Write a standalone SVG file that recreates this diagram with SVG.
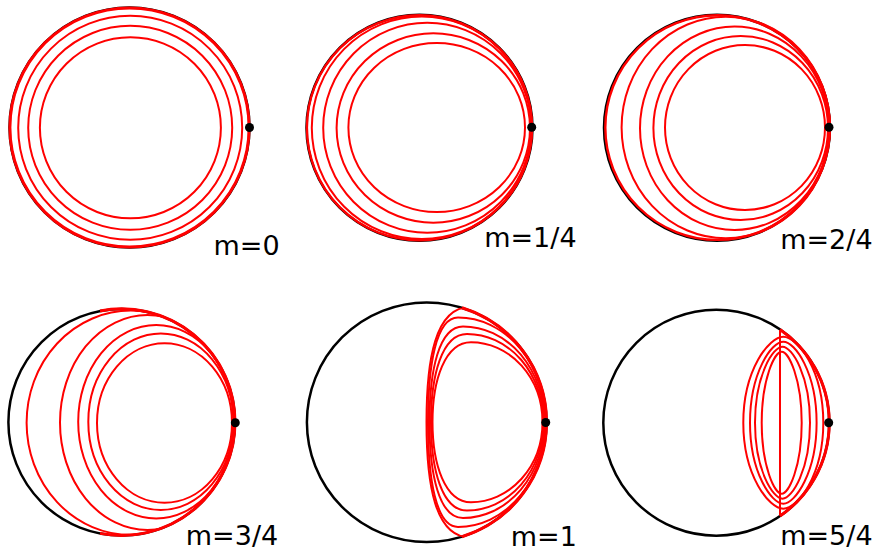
<svg xmlns="http://www.w3.org/2000/svg" width="877" height="552" viewBox="0 0 877 552">
<style>
.bk{fill:none;stroke:#000;stroke-width:2.5}
.rd{fill:none;stroke:#f00;stroke-width:2}
.hug{fill:none;stroke:#f00;stroke-width:3}
.dot{fill:#000}
.lbl{font-family:"DejaVu Sans","Liberation Sans",sans-serif;font-size:27px;fill:#000}
</style>
<defs>
<clipPath id="cp4"><circle cx="121.7" cy="422.2" r="113.3"/></clipPath>
<clipPath id="cp5"><circle cx="426.7" cy="422.2" r="119.8"/></clipPath>
<clipPath id="cp6"><circle cx="716.3" cy="422.7" r="113"/></clipPath>
</defs>
<rect width="877" height="552" fill="#fff"/>

<g id="panel-m0">
<circle class="bk" cx="129.5" cy="127.5" r="120"/>
<circle class="hug" cx="129.5" cy="127.5" r="119.6"/>
<circle class="rd" cx="130.2" cy="127.8" r="112"/>
<circle class="rd" cx="130.2" cy="127.8" r="102"/>
<circle class="rd" cx="130.4" cy="127.8" r="90.5"/>
<circle class="dot" cx="249.5" cy="127.5" r="4.5"/>
<text class="lbl" x="213.5" y="255">m=0</text>
</g>

<g id="panel-m1-4">
<circle class="bk" cx="419.5" cy="127.8" r="113"/>
<circle class="rd" cx="419.5" cy="127.8" r="112.6" style="stroke-width:2.4"/>
<ellipse class="rd" cx="421.8" cy="127.8" rx="110" ry="111.3"/>
<ellipse class="rd" cx="427.2" cy="127.7" rx="104" ry="105"/>
<ellipse class="rd" cx="433.3" cy="128" rx="96.7" ry="94.7"/>
<ellipse class="rd" cx="436.7" cy="127.5" rx="88.3" ry="84.5"/>
<circle class="dot" cx="531.7" cy="127.3" r="4.5"/>
<text class="lbl" x="484.2" y="247">m=1/4</text>
</g>

<g id="panel-m2-4">
<circle class="bk" cx="717" cy="127.8" r="113"/>
<circle class="rd" cx="717.6" cy="127.6" r="112.3" style="stroke-width:2.4"/>
<ellipse class="rd" cx="725.8" cy="127.5" rx="104.2" ry="110.8"/>
<ellipse class="rd" cx="734.5" cy="128.3" rx="94.5" ry="101.7"/>
<ellipse class="rd" cx="740.7" cy="128" rx="87.3" ry="92"/>
<ellipse class="rd" cx="745" cy="127.5" rx="80" ry="82.5"/>
<circle class="dot" cx="829" cy="127.3" r="4.5"/>
<text class="lbl" x="780.2" y="249">m=2/4</text>
</g>

<g id="panel-m3-4">
<circle class="bk" cx="121.7" cy="422.2" r="113.3"/>
<g clip-path="url(#cp4)">
<ellipse class="rd" cx="130.8" cy="422.8" rx="104.2" ry="112.2"/>
<ellipse class="rd" cx="147.5" cy="422.5" rx="87.5" ry="107.5"/>
<ellipse class="rd" cx="156.2" cy="421.7" rx="78" ry="96.7"/>
<ellipse class="rd" cx="160.8" cy="421.7" rx="72.5" ry="88.3"/>
<ellipse class="rd" cx="164.5" cy="423" rx="67.5" ry="79.7"/>
</g>
<path class="hug" d="M100,311 A113.3 113.3 0 1 1 100,533.4"/>
<circle class="dot" cx="235.3" cy="422.7" r="4.5"/>
<text class="lbl" x="185.8" y="545">m=3/4</text>
</g>

<g id="panel-m1">
<circle class="bk" cx="426.7" cy="422.2" r="119.8"/>
<g clip-path="url(#cp5)">
<path class="rd" d="M426.5,422.2 C426.5,360 435,307 470,307 A78 115.2 0 0 1 548,422.2 A78 115.2 0 0 1 470,537.4 C435,537.4 426.5,484.4 426.5,422.2 Z"/>
<path class="rd" d="M428,422.2 C428,365 436,317.5 458,317.5 A87.5 104.7 0 0 1 545.5,422.2 A87.5 104.7 0 0 1 458,526.9 C436,526.9 428,479.4 428,422.2 Z"/>
<path class="rd" d="M429.5,422.2 C429.5,370 439,326.4 463,326.4 A81.5 95.8 0 0 1 544.5,422.2 A81.5 95.8 0 0 1 463,518 C439,518 429.5,474.4 429.5,422.2 Z"/>
<path class="rd" d="M431,422.2 C431,375 442,333.9 467,333.9 A76.5 88.3 0 0 1 543.5,422.2 A76.5 88.3 0 0 1 467,510.5 C442,510.5 431,469.4 431,422.2 Z"/>
<path class="rd" d="M432.5,422.2 C432.5,380 445,342.2 471,342.2 A71.5 80 0 0 1 542.5,422.2 A71.5 80 0 0 1 471,502.2 C445,502.2 432.5,464.4 432.5,422.2 Z"/>
</g>
<path class="hug" d="M462,307.7 A119.8 119.8 0 0 1 462,536.7"/>
<circle class="dot" cx="545.7" cy="422.5" r="4.5"/>
<text class="lbl" x="510.8" y="546">m=1</text>
</g>

<g id="panel-m5-4">
<circle class="bk" cx="716.3" cy="422.7" r="113"/>
<g clip-path="url(#cp6)">
<path class="rd" d="M783.3,336.7 C769.3,336.7 743.3,369.4 743.3,422.7 C743.3,476 769.3,508.7 783.3,508.7 C797.3,508.7 823.3,476 823.3,422.7 C823.3,369.4 797.3,336.7 783.3,336.7 Z"/>
<path class="rd" d="M783.3,341.7 C771.6,341.7 750,372.5 750,422.7 C750,472.9 771.6,503.7 783.3,503.7 C795,503.7 816.6,472.9 816.6,422.7 C816.6,372.5 795,341.7 783.3,341.7 Z"/>
<path class="rd" d="M782.5,346.7 C772.9,346.7 755,375.6 755,422.7 C755,469.8 772.9,498.7 782.5,498.7 C792.1,498.7 810,469.8 810,422.7 C810,375.6 792.1,346.7 782.5,346.7 Z"/>
<path class="rd" d="M781.7,351.7 C774.7,351.7 761.7,378.7 761.7,422.7 C761.7,466.7 774.7,493.7 781.7,493.7 C788.7,493.7 801.7,466.7 801.7,422.7 C801.7,378.7 788.7,351.7 781.7,351.7 Z"/>
</g>
<path class="rd" d="M780,330 L780,515.4"/>
<path class="hug" d="M780,329.4 A113 113 0 0 1 780,516"/>
<circle class="dot" cx="828.7" cy="422.7" r="4.5"/>
<text class="lbl" x="780.2" y="545">m=5/4</text>
</g>
</svg>
